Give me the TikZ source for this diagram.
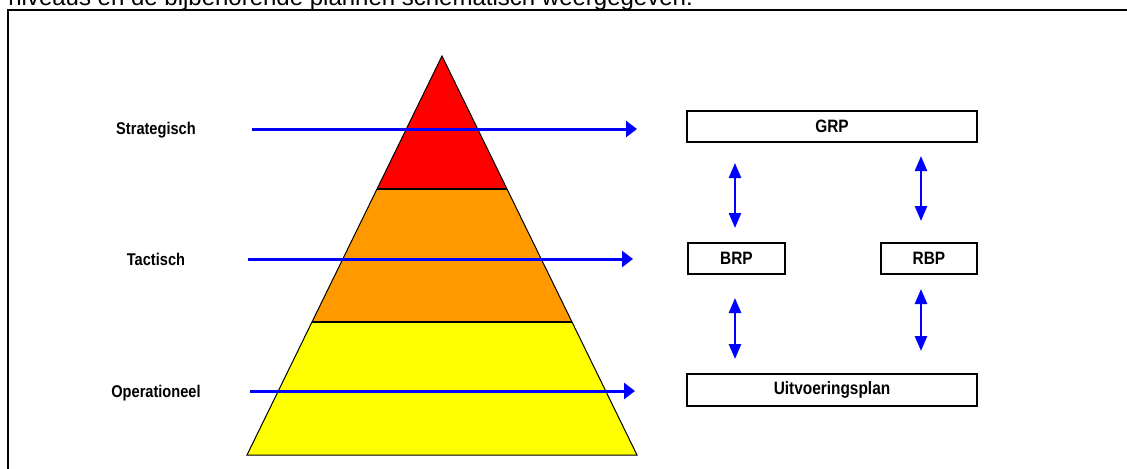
\documentclass[tikz,border=0pt]{standalone}
\usepackage{fontspec}
\setmainfont{Liberation Sans}
\usetikzlibrary{arrows.meta,calc}
\definecolor{pyrred}{HTML}{FF0000}
\definecolor{pyrorange}{HTML}{FF9900}
\definecolor{pyryellow}{HTML}{FFFF00}
\definecolor{arrblue}{HTML}{0000FF}
\newcommand\nrw[1]{\scalebox{0.86}[1]{#1}}
\begin{document}
\begin{tikzpicture}[x=0.02cm,y=-0.02cm,
  lab/.style={font=\fontsize{9.67pt}{11pt}\selectfont\bfseries, inner sep=0, anchor=base},
  plan/.style={draw, line width=0.04cm, inner sep=0, minimum height=0.62cm,
    font=\fontsize{10.2pt}{12pt}\selectfont\bfseries},
  harrow/.style={draw=arrblue, line width=0.06cm, -{Triangle[length=0.22cm,width=0.32cm]}},
  varrow/.style={draw=arrblue, line width=0.05cm,
    {Triangle[length=0.3cm,width=0.24cm]}-{Triangle[length=0.3cm,width=0.24cm]}}]
\useasboundingbox (0,0) rectangle (1127,468);
\clip (0,0) rectangle (1127,468);
% caption line cut off at the top
\node[anchor=base west, inner sep=0, font=\fontsize{13.66pt}{16pt}\selectfont] (cap) at (8,5)
  {niveaus en de bijbehorende plannen schematisch weergegeven.};
% frame
\draw[line width=0.03cm] (8,10) rectangle (1140,480);
% pyramid
\fill[pyrred] (442,56) -- (507,189) -- (377,189) -- cycle;
\fill[pyrorange] (377,189) -- (507,189) -- (572,322) -- (312,322) -- cycle;
\fill[pyryellow] (312,322) -- (572,322) -- (637,455) -- (247,455) -- cycle;
\draw[line width=0.02cm, line join=miter] (442,56) -- (637,455) -- (247,455) -- cycle;
\draw[line width=0.025cm] (377,189) -- (507,189) (312,322) -- (572,322);
% labels
\node[lab] (strat) at (156,134) {\nrw{Strategisch}};
\node[lab] (tact) at (156,265) {\nrw{Tactisch}};
\node[lab] (oper) at (156,397) {\nrw{Operationeel}};
% plan boxes
\node[plan, minimum width=5.8cm] (GRP) at (832,126.5) {\nrw{GRP}};
\node[plan, minimum width=1.94cm] (BRP) at (736.5,258.5) {\nrw{BRP}};
\node[plan, minimum width=1.92cm] (RBP) at (929,258.5) {\nrw{RBP}};
\node[plan, minimum width=5.8cm, minimum height=0.64cm] (UIT) at (832,390) {\nrw{Uitvoeringsplan}};
% horizontal arrows
\coordinate (sA) at (252,129); \coordinate (sB) at (637,129);
\coordinate (tA) at (248,259); \coordinate (tB) at (633,259);
\coordinate (oA) at (250,391); \coordinate (oB) at (635,391);
\draw[harrow] (sA) -- (sB);
\draw[harrow] (tA) -- (tB);
\draw[harrow] (oA) -- (oB);
% vertical double arrows
\draw[varrow] ($(GRP.south -| BRP.north)+(-1.5,20)$) -- ($(BRP.north)+(-1.5,-14)$);
\draw[varrow] ($(GRP.south -| RBP.north)+(-8,13)$) -- ($(RBP.north)+(-8,-21)$);
\draw[varrow] ($(BRP.south)+(-1.5,23)$) -- ($(UIT.north -| BRP.south)+(-1.5,-14)$);
\draw[varrow] ($(RBP.south)+(-8,14)$) -- ($(UIT.north -| RBP.south)+(-8,-22)$);
\end{tikzpicture}
\end{document}
